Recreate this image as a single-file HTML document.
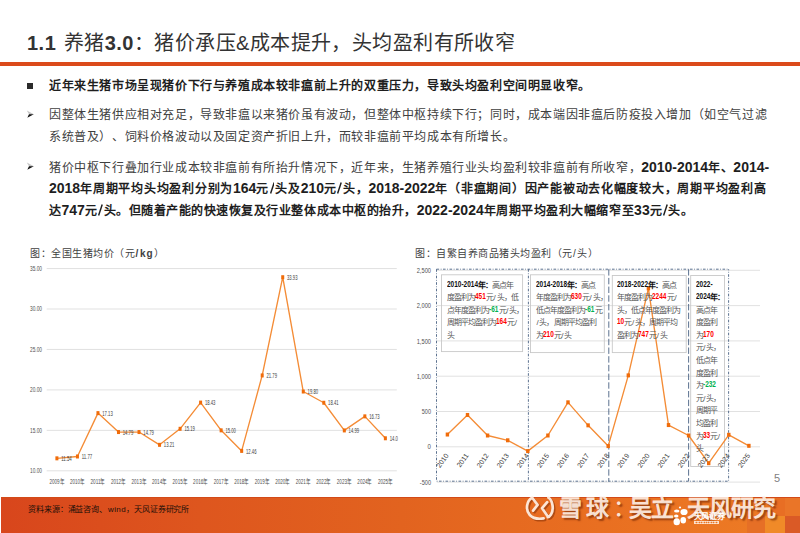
<!DOCTYPE html>
<html lang="zh-CN"><head><meta charset="utf-8">
<style>
*{margin:0;padding:0;box-sizing:border-box}
html,body{width:800px;height:533px;overflow:hidden;background:#fff}
body{position:relative;font-family:"Liberation Sans",sans-serif;color:#404040}
.abs{position:absolute;white-space:nowrap}
#title{left:27px;top:29.5px;font-size:20px;font-weight:500;color:#333;line-height:26px;letter-spacing:0.42px}
#title b{font-weight:bold;letter-spacing:0.5px}
#rule{left:0;top:62px;width:800px;height:4px;background:#DB4A1B}
.ln{position:absolute;left:49px;white-space:nowrap;font-size:12px;letter-spacing:0.6px;line-height:16px;text-spacing-trim:space-all}
.b{font-weight:bold;color:#1e1e1e}
.a{letter-spacing:0px;font-size:14px}
.sl{display:inline-block;width:4.8px;height:12px;margin:0 0.8px 0 0.5px;vertical-align:-1.3px;color:#404040}
.b .sl{color:#1e1e1e}
.sl svg{display:block}
.sq{position:absolute;left:27px;top:82.5px;width:6px;height:6px;background:#2b2b2b}
.arr{position:absolute;left:26px;width:9px;height:8px}
#footer{left:1px;top:497px;border-top:1px solid #D24A18;width:800px;height:36px;background:linear-gradient(90deg,#D8461C 0%,#DE561E 25%,#E2631F 50%,#E96F21 75%,#EE7D25 100%);overflow:hidden}
#footer i{position:absolute;display:block}
#src{left:28px;top:503.5px;font-size:8px;letter-spacing:-0.1px;color:#1a0f08;line-height:12px;font-weight:500}
.wm{position:absolute;white-space:nowrap;font-size:23px;font-weight:bold;line-height:24px;color:rgba(255,244,236,0.9);text-shadow:2px 2px 1.5px rgba(100,30,0,0.55)}
#pg{left:774px;top:472px;font-size:11px;color:#7f7f7f}

#charts{position:absolute;left:0;top:0;width:800px;height:533px;font-family:"Liberation Sans",sans-serif}
.ct{position:absolute;white-space:nowrap;font-size:10px;letter-spacing:0.5px;color:#404040;line-height:14px;font-weight:500}
.bx{position:absolute;white-space:nowrap;font-size:8px;letter-spacing:-0.95px;line-height:12.6px;color:#555}
.bx b{color:#111;font-weight:bold}
.bx .n{font-weight:bold;letter-spacing:0;font-size:9px;display:inline-block;transform:scaleX(0.72);transform-origin:0 0;line-height:10px;position:relative;top:-1px}
.s2{letter-spacing:0.8px;padding-left:0.6px}
.r{color:#FF0000}.g{color:#00B050}
</style></head><body>
<div class="abs" id="title"><b>1.1</b>&nbsp;<span style="margin-left:1.5px"></span>养猪<b>3.0</b>：猪价承压&amp;成本提升，头均盈利有所收窄</div>
<div class="abs" id="rule"></div>

<div class="sq"></div>
<div class="ln b" style="top:78px">近年来生猪市场呈现猪价下行与养殖成本较非瘟前上升的双重压力，导致头均盈利空间明显收窄。</div>

<svg class="arr" style="top:110px" viewBox="0 0 9 8"><path d="M0.8 0.4 L7.8 4.2 L3 4.2 Z" fill="#c4c4c4"/><path d="M3 4.2 L7.8 4.2 L1.3 7.8 Z" fill="#111"/></svg>
<div class="ln" style="top:106.5px">因整体生猪供应相对充足，导致非瘟以来猪价虽有波动，但整体中枢持续下行；同时，成本端因非瘟后防疫投入增加（如空气过滤</div>
<div class="ln" style="top:129px">系统普及）、饲料价格波动以及固定资产折旧上升，而较非瘟前平均成本有所增长。</div>

<svg class="arr" style="top:162px" viewBox="0 0 9 8"><path d="M0.8 0.4 L7.8 4.2 L3 4.2 Z" fill="#c4c4c4"/><path d="M3 4.2 L7.8 4.2 L1.3 7.8 Z" fill="#111"/></svg>
<div class="ln" style="top:158.5px">猪价中枢下行叠加行业成本较非瘟前有所抬升情况下，近年来，生猪养殖行业头均盈利较非瘟前有所收窄，<span class="b"><span class="a">2010-2014</span>年、<span class="a">2014-</span></span></div>
<div class="ln b" style="top:180px;letter-spacing:0.74px"><span class="a">2018</span>年周期平均头均盈利分别为<span class="a">164</span>元<span class="sl"><svg width="4.8" height="12" viewBox="0 0 4.8 12"><line x1="0.6" y1="11.4" x2="4.2" y2="0.6" stroke="currentColor" stroke-width="1.45"/></svg></span>头及<span class="a">210</span>元<span class="sl"><svg width="4.8" height="12" viewBox="0 0 4.8 12"><line x1="0.6" y1="11.4" x2="4.2" y2="0.6" stroke="currentColor" stroke-width="1.45"/></svg></span>头，<span class="a">2018-2022</span>年（非瘟期间）因产能被动去化幅度较大，周期平均盈利高</div>
<div class="ln b" style="top:202px;letter-spacing:0.53px">达<span class="a">747</span>元<span class="sl"><svg width="4.8" height="12" viewBox="0 0 4.8 12"><line x1="0.6" y1="11.4" x2="4.2" y2="0.6" stroke="currentColor" stroke-width="1.45"/></svg></span>头。但随着产能的快速恢复及行业整体成本中枢的抬升，<span class="a">2022-2024</span>年周期平均盈利大幅缩窄至<span class="a">33</span>元<span class="sl"><svg width="4.8" height="12" viewBox="0 0 4.8 12"><line x1="0.6" y1="11.4" x2="4.2" y2="0.6" stroke="currentColor" stroke-width="1.45"/></svg></span>头。</div>


<div class="ct" style="left:30px;top:247px">图：全国生猪均价（元<span style="font-weight:bold;letter-spacing:1px"><span style="margin:0 0.8px 0 0.4px">/</span>kg</span>）</div>
<div class="ct" style="left:415px;top:247px">图：自繁自养商品猪头均盈利（元<span style="letter-spacing:1.2px;margin-left:0.6px">/</span>头）</div>
<svg id="charts" viewBox="0 0 800 533" width="800" height="533"><g id="lc">
<line x1="46.7" y1="268.55" x2="396.8" y2="268.55" stroke="#D9D9D9" stroke-width="0.8"/>
<text x="42" y="270.75" text-anchor="end" font-size="6.6" textLength="12" lengthAdjust="spacingAndGlyphs" fill="#505050">35.00</text>
<line x1="46.7" y1="309" x2="396.8" y2="309" stroke="#D9D9D9" stroke-width="0.8"/>
<text x="42" y="311.2" text-anchor="end" font-size="6.6" textLength="12" lengthAdjust="spacingAndGlyphs" fill="#505050">30.00</text>
<line x1="46.7" y1="349.45" x2="396.8" y2="349.45" stroke="#D9D9D9" stroke-width="0.8"/>
<text x="42" y="351.65" text-anchor="end" font-size="6.6" textLength="12" lengthAdjust="spacingAndGlyphs" fill="#505050">25.00</text>
<line x1="46.7" y1="389.9" x2="396.8" y2="389.9" stroke="#D9D9D9" stroke-width="0.8"/>
<text x="42" y="392.1" text-anchor="end" font-size="6.6" textLength="12" lengthAdjust="spacingAndGlyphs" fill="#505050">20.00</text>
<line x1="46.7" y1="430.35" x2="396.8" y2="430.35" stroke="#D9D9D9" stroke-width="0.8"/>
<text x="42" y="432.55" text-anchor="end" font-size="6.6" textLength="12" lengthAdjust="spacingAndGlyphs" fill="#505050">15.00</text>
<line x1="46.7" y1="470.8" x2="396.8" y2="470.8" stroke="#D9D9D9" stroke-width="0.8"/>
<text x="42" y="473" text-anchor="end" font-size="6.6" textLength="12" lengthAdjust="spacingAndGlyphs" fill="#505050">10.00</text>
<polyline fill="none" stroke="#F48C36" stroke-width="1.35" stroke-linejoin="round" points="56.9,458.34 77.43,456.48 97.96,413.12 118.49,432.05 139.02,432.05 159.55,444.83 180.08,428.81 200.61,402.6 221.14,430.35 241.67,450.9 262.2,375.42 282.73,277.21 303.26,391.52 323.79,402.76 344.32,430.43 364.85,416.35 385.38,438.28"/>
<rect x="55.4" y="456.34" width="3" height="4" fill="#F06C0A"/>
<rect x="75.93" y="454.48" width="3" height="4" fill="#F06C0A"/>
<rect x="96.46" y="411.12" width="3" height="4" fill="#F06C0A"/>
<rect x="116.99" y="430.05" width="3" height="4" fill="#F06C0A"/>
<rect x="137.52" y="430.05" width="3" height="4" fill="#F06C0A"/>
<rect x="158.05" y="442.83" width="3" height="4" fill="#F06C0A"/>
<rect x="178.58" y="426.81" width="3" height="4" fill="#F06C0A"/>
<rect x="199.11" y="400.6" width="3" height="4" fill="#F06C0A"/>
<rect x="219.64" y="428.35" width="3" height="4" fill="#F06C0A"/>
<rect x="240.17" y="448.9" width="3" height="4" fill="#F06C0A"/>
<rect x="260.7" y="373.42" width="3" height="4" fill="#F06C0A"/>
<rect x="281.23" y="275.21" width="3" height="4" fill="#F06C0A"/>
<rect x="301.76" y="389.52" width="3" height="4" fill="#F06C0A"/>
<rect x="322.29" y="400.76" width="3" height="4" fill="#F06C0A"/>
<rect x="342.82" y="428.43" width="3" height="4" fill="#F06C0A"/>
<rect x="363.35" y="414.35" width="3" height="4" fill="#F06C0A"/>
<rect x="383.88" y="436.28" width="3" height="4" fill="#F06C0A"/>
<clipPath id="lclip"><rect x="0" y="250" width="399" height="250"/></clipPath>
<g clip-path="url(#lclip)">
<text x="61.2" y="460.94" font-size="6.4" textLength="10.5" lengthAdjust="spacingAndGlyphs" fill="#404040">11.54</text>
<text x="81.73" y="459.08" font-size="6.4" textLength="10.5" lengthAdjust="spacingAndGlyphs" fill="#404040">11.77</text>
<text x="102.26" y="415.72" font-size="6.4" textLength="10.5" lengthAdjust="spacingAndGlyphs" fill="#404040">17.13</text>
<text x="122.79" y="434.65" font-size="6.4" textLength="10.5" lengthAdjust="spacingAndGlyphs" fill="#404040">14.79</text>
<text x="143.32" y="434.65" font-size="6.4" textLength="10.5" lengthAdjust="spacingAndGlyphs" fill="#404040">14.79</text>
<text x="163.85" y="447.43" font-size="6.4" textLength="10.5" lengthAdjust="spacingAndGlyphs" fill="#404040">13.21</text>
<text x="184.38" y="431.41" font-size="6.4" textLength="10.5" lengthAdjust="spacingAndGlyphs" fill="#404040">15.19</text>
<text x="204.91" y="405.2" font-size="6.4" textLength="10.5" lengthAdjust="spacingAndGlyphs" fill="#404040">18.43</text>
<text x="225.44" y="432.95" font-size="6.4" textLength="10.5" lengthAdjust="spacingAndGlyphs" fill="#404040">15.00</text>
<text x="245.97" y="453.5" font-size="6.4" textLength="10.5" lengthAdjust="spacingAndGlyphs" fill="#404040">12.46</text>
<text x="266.5" y="378.02" font-size="6.4" textLength="10.5" lengthAdjust="spacingAndGlyphs" fill="#404040">21.79</text>
<text x="287.03" y="279.81" font-size="6.4" textLength="10.5" lengthAdjust="spacingAndGlyphs" fill="#404040">33.93</text>
<text x="307.56" y="394.12" font-size="6.4" textLength="10.5" lengthAdjust="spacingAndGlyphs" fill="#404040">19.80</text>
<text x="328.09" y="405.36" font-size="6.4" textLength="10.5" lengthAdjust="spacingAndGlyphs" fill="#404040">18.41</text>
<text x="348.62" y="433.03" font-size="6.4" textLength="10.5" lengthAdjust="spacingAndGlyphs" fill="#404040">14.99</text>
<text x="369.15" y="418.95" font-size="6.4" textLength="10.5" lengthAdjust="spacingAndGlyphs" fill="#404040">16.73</text>
<text x="389.68" y="440.88" font-size="6.4" textLength="8.3" lengthAdjust="spacingAndGlyphs" fill="#404040">14.0</text>
</g>
<text x="56.9" y="483.6" text-anchor="middle" font-size="6.6" textLength="15" lengthAdjust="spacingAndGlyphs" fill="#505050">2009年</text>
<text x="77.43" y="483.6" text-anchor="middle" font-size="6.6" textLength="15" lengthAdjust="spacingAndGlyphs" fill="#505050">2010年</text>
<text x="97.96" y="483.6" text-anchor="middle" font-size="6.6" textLength="15" lengthAdjust="spacingAndGlyphs" fill="#505050">2011年</text>
<text x="118.49" y="483.6" text-anchor="middle" font-size="6.6" textLength="15" lengthAdjust="spacingAndGlyphs" fill="#505050">2012年</text>
<text x="139.02" y="483.6" text-anchor="middle" font-size="6.6" textLength="15" lengthAdjust="spacingAndGlyphs" fill="#505050">2013年</text>
<text x="159.55" y="483.6" text-anchor="middle" font-size="6.6" textLength="15" lengthAdjust="spacingAndGlyphs" fill="#505050">2014年</text>
<text x="180.08" y="483.6" text-anchor="middle" font-size="6.6" textLength="15" lengthAdjust="spacingAndGlyphs" fill="#505050">2015年</text>
<text x="200.61" y="483.6" text-anchor="middle" font-size="6.6" textLength="15" lengthAdjust="spacingAndGlyphs" fill="#505050">2016年</text>
<text x="221.14" y="483.6" text-anchor="middle" font-size="6.6" textLength="15" lengthAdjust="spacingAndGlyphs" fill="#505050">2017年</text>
<text x="241.67" y="483.6" text-anchor="middle" font-size="6.6" textLength="15" lengthAdjust="spacingAndGlyphs" fill="#505050">2018年</text>
<text x="262.2" y="483.6" text-anchor="middle" font-size="6.6" textLength="15" lengthAdjust="spacingAndGlyphs" fill="#505050">2019年</text>
<text x="282.73" y="483.6" text-anchor="middle" font-size="6.6" textLength="15" lengthAdjust="spacingAndGlyphs" fill="#505050">2020年</text>
<text x="303.26" y="483.6" text-anchor="middle" font-size="6.6" textLength="15" lengthAdjust="spacingAndGlyphs" fill="#505050">2021年</text>
<text x="323.79" y="483.6" text-anchor="middle" font-size="6.6" textLength="15" lengthAdjust="spacingAndGlyphs" fill="#505050">2022年</text>
<text x="344.32" y="483.6" text-anchor="middle" font-size="6.6" textLength="15" lengthAdjust="spacingAndGlyphs" fill="#505050">2023年</text>
<text x="364.85" y="483.6" text-anchor="middle" font-size="6.6" textLength="15" lengthAdjust="spacingAndGlyphs" fill="#505050">2024年</text>
<text x="385.38" y="483.6" text-anchor="middle" font-size="6.6" textLength="15" lengthAdjust="spacingAndGlyphs" fill="#505050">2025年</text>
</g>
<g id="rc">
<line x1="436.8" y1="270.3" x2="760" y2="270.3" stroke="#D9D9D9" stroke-width="0.8"/>
<text x="431" y="272.9" text-anchor="end" font-size="7.4" textLength="14.3" lengthAdjust="spacingAndGlyphs" fill="#505050">2,500</text>
<line x1="436.8" y1="305.6" x2="760" y2="305.6" stroke="#D9D9D9" stroke-width="0.8"/>
<text x="431" y="308.2" text-anchor="end" font-size="7.4" textLength="14.3" lengthAdjust="spacingAndGlyphs" fill="#505050">2,000</text>
<line x1="436.8" y1="340.9" x2="760" y2="340.9" stroke="#D9D9D9" stroke-width="0.8"/>
<text x="431" y="343.5" text-anchor="end" font-size="7.4" textLength="14.3" lengthAdjust="spacingAndGlyphs" fill="#505050">1,500</text>
<line x1="436.8" y1="376.2" x2="760" y2="376.2" stroke="#D9D9D9" stroke-width="0.8"/>
<text x="431" y="378.8" text-anchor="end" font-size="7.4" textLength="14.3" lengthAdjust="spacingAndGlyphs" fill="#505050">1,000</text>
<line x1="436.8" y1="411.5" x2="760" y2="411.5" stroke="#D9D9D9" stroke-width="0.8"/>
<text x="431" y="414.1" text-anchor="end" font-size="7.4" textLength="9.2" lengthAdjust="spacingAndGlyphs" fill="#505050">500</text>
<line x1="436.8" y1="446.8" x2="760" y2="446.8" stroke="#D9D9D9" stroke-width="0.8"/>
<text x="431" y="449.4" text-anchor="end" font-size="7.4" textLength="3.4" lengthAdjust="spacingAndGlyphs" fill="#505050">0</text>
<line x1="436.8" y1="482.1" x2="760" y2="482.1" stroke="#D9D9D9" stroke-width="0.8"/>
<text x="431" y="484.7" text-anchor="end" font-size="7.4" textLength="11.2" lengthAdjust="spacingAndGlyphs" fill="#505050">-500</text>
<rect x="441.5" y="274.8" width="81.1" height="76.8" fill="none" stroke="#C8C8C8" stroke-width="0.9"/>
<rect x="530.5" y="274.8" width="73.8" height="77.8" fill="none" stroke="#C8C8C8" stroke-width="0.9"/>
<rect x="612.3" y="275.5" width="73.9" height="77.1" fill="none" stroke="#C8C8C8" stroke-width="0.9"/>
<rect x="690.7" y="275.5" width="33.8" height="191" fill="none" stroke="#C8C8C8" stroke-width="0.9"/>
<path d="M436.5 269.2 H728.6 M436.5 269.2 V481.2 H728.6 V269.2 M528.4 269.2 V481.2" fill="none" stroke="#4A6283" stroke-width="0.9" stroke-dasharray="2.6 1.6 0.8 1.5"/>
<path d="M608.8 269.2 V481.2 M688.6 269.2 V481.2" fill="none" stroke="#4A6283" stroke-width="0.9" stroke-dasharray="6.4 2.3"/>
<polyline fill="none" stroke="#F48C36" stroke-width="1.35" stroke-linejoin="round" points="447.4,434.52 467.5,414.96 487.6,435.5 507.7,440.3 527.8,451.11 547.9,435.5 568,402.32 588.1,425.34 608.2,446.09 628.3,375.35 648.4,288.37 668.5,425.06 688.6,435.5 708.7,463.18 728.8,434.8 748.9,445.81"/>
<rect x="445.7" y="432.52" width="3.4" height="4" fill="#F06C0A"/>
<rect x="465.8" y="412.96" width="3.4" height="4" fill="#F06C0A"/>
<rect x="485.9" y="433.5" width="3.4" height="4" fill="#F06C0A"/>
<rect x="506" y="438.3" width="3.4" height="4" fill="#F06C0A"/>
<rect x="526.1" y="449.11" width="3.4" height="4" fill="#F06C0A"/>
<rect x="546.2" y="433.5" width="3.4" height="4" fill="#F06C0A"/>
<rect x="566.3" y="400.32" width="3.4" height="4" fill="#F06C0A"/>
<rect x="586.4" y="423.34" width="3.4" height="4" fill="#F06C0A"/>
<rect x="606.5" y="444.09" width="3.4" height="4" fill="#F06C0A"/>
<rect x="626.6" y="373.35" width="3.4" height="4" fill="#F06C0A"/>
<rect x="646.7" y="286.37" width="3.4" height="4" fill="#F06C0A"/>
<rect x="666.8" y="423.06" width="3.4" height="4" fill="#F06C0A"/>
<rect x="686.9" y="433.5" width="3.4" height="4" fill="#F06C0A"/>
<rect x="707" y="461.18" width="3.4" height="4" fill="#F06C0A"/>
<rect x="727.1" y="432.8" width="3.4" height="4" fill="#F06C0A"/>
<rect x="747.2" y="443.81" width="3.4" height="4" fill="#F06C0A"/>
<text transform="translate(448.9,455.5) rotate(-55)" text-anchor="end" font-size="7" fill="#404040">2010</text>
<text transform="translate(469,455.5) rotate(-55)" text-anchor="end" font-size="7" fill="#404040">2011</text>
<text transform="translate(489.1,455.5) rotate(-55)" text-anchor="end" font-size="7" fill="#404040">2012</text>
<text transform="translate(509.2,455.5) rotate(-55)" text-anchor="end" font-size="7" fill="#404040">2013</text>
<text transform="translate(529.3,455.5) rotate(-55)" text-anchor="end" font-size="7" fill="#404040">2014</text>
<text transform="translate(549.4,455.5) rotate(-55)" text-anchor="end" font-size="7" fill="#404040">2015</text>
<text transform="translate(569.5,455.5) rotate(-55)" text-anchor="end" font-size="7" fill="#404040">2016</text>
<text transform="translate(589.6,455.5) rotate(-55)" text-anchor="end" font-size="7" fill="#404040">2017</text>
<text transform="translate(609.7,455.5) rotate(-55)" text-anchor="end" font-size="7" fill="#404040">2018</text>
<text transform="translate(629.8,455.5) rotate(-55)" text-anchor="end" font-size="7" fill="#404040">2019</text>
<text transform="translate(649.9,455.5) rotate(-55)" text-anchor="end" font-size="7" fill="#404040">2020</text>
<text transform="translate(670,455.5) rotate(-55)" text-anchor="end" font-size="7" fill="#404040">2021</text>
<text transform="translate(690.1,455.5) rotate(-55)" text-anchor="end" font-size="7" fill="#404040">2022</text>
<text transform="translate(710.2,455.5) rotate(-55)" text-anchor="end" font-size="7" fill="#404040">2023</text>
<text transform="translate(730.3,455.5) rotate(-55)" text-anchor="end" font-size="7" fill="#404040">2024</text>
<text transform="translate(750.4,455.5) rotate(-55)" text-anchor="end" font-size="7" fill="#404040">2025</text>
</g></svg>
<div class="bx" style="left:446.8px;top:279.5px"><b><span class="n" style="margin-right:-12.05px">2010-2014</span>年：</b>高点年<br>度盈利为<span class="n r" style="margin-right:-4.20px">451</span>元<span class="s2">/</span>头，低<br>点年度盈利为<span class="n g" style="margin-right:-3.64px">-61</span>元<span class="s2">/</span>头，<br>周期平均盈利为<span class="n r" style="margin-right:-4.20px">164</span>元<span class="s2">/</span><br>头</div>
<div class="bx" style="left:535.8px;top:279.5px"><b><span class="n" style="margin-right:-12.05px">2014-2018</span>年：</b>高点<br>年度盈利为<span class="n r" style="margin-right:-4.20px">630</span>元<span class="s2">/</span>头，<br>低点年度盈利为<span class="n g" style="margin-right:-3.64px">-61</span>元<br><span class="s2">/</span>头，周期平均盈利<br>为<span class="n r" style="margin-right:-4.20px">210</span>元<span class="s2">/</span>头</div>
<div class="bx" style="left:617.1px;top:279.5px"><b><span class="n" style="margin-right:-12.05px">2018-2022</span>年：</b>高点<br>年度盈利为<span class="n r" style="margin-right:-5.60px">2244</span>元<span class="s2">/</span><br>头，低点年度盈利为<br><span class="n r" style="margin-right:-2.80px">10</span>元<span class="s2">/</span>头，周期平均<br>盈利为<span class="n r" style="margin-right:-4.20px">747</span>元<span class="s2">/</span>头</div>
<div class="bx" style="left:695.7px;top:279.5px"><b><span class="n" style="margin-right:-6.44px">2022-</span></b><br><b><span class="n" style="margin-right:-5.60px">2024</span>年：</b><br>高点年<br>度盈利<br>为<span class="n r" style="margin-right:-4.20px">170</span><br>元<span class="s2">/</span>头，<br>低点年<br>度盈利<br>为<span class="n g" style="margin-right:-5.04px">-232</span><br>元<span class="s2">/</span>头，<br>周期平<br>均盈利<br>为<span class="n r" style="margin-right:-2.80px">33</span>元<span class="s2">/</span><br>头</div>
<div class="abs" id="footer"><i style="left:770px;top:0;width:14px;height:18px;background:#E86E24"></i><i style="left:784px;top:0;width:16px;height:18px;background:#EA7528"></i><i style="left:746px;top:18px;width:18px;height:18px;background:#E66F26"></i><i style="left:764px;top:18px;width:20px;height:18px;background:#F08A28"></i><i style="left:784px;top:18px;width:16px;height:18px;background:#DA5A26"></i></div>
<div class="abs" id="src">资料来源：涌益咨询、<span style="letter-spacing:0.4px;margin-left:1px">wind</span>，天风证券研究所</div>
<div class="abs" id="pg">5</div>
<svg style="position:absolute;left:522px;top:492px;overflow:visible" width="36" height="32" viewBox="0 0 36 32"><g fill="none" stroke-width="2.7" stroke-linecap="round" stroke-linejoin="round"><g stroke="rgba(110,35,0,0.45)" transform="translate(1.5,1.5)"><path d="M10.2 5.7 C4.5 8.5 3.2 18 7.8 23 C11 26.5 16 27.3 21.6 26.4 M10.2 5.7 L15.6 12.9 L11.1 18.6 M26.4 5.7 C31 8.5 32 18 29 22.5 C28 24 27 25 25.8 25.2 M25.2 10.2 L20.1 16.2 L25.8 24.5"/></g><g stroke="rgba(255,240,228,0.93)"><path d="M10.2 5.7 C4.5 8.5 3.2 18 7.8 23 C11 26.5 16 27.3 21.6 26.4 M10.2 5.7 L15.6 12.9 L11.1 18.6 M26.4 5.7 C31 8.5 32 18 29 22.5 C28 24 27 25 25.8 25.2 M25.2 10.2 L20.1 16.2 L25.8 24.5"/></g></g></svg>
<div class="wm" style="left:559px;top:495.5px;letter-spacing:4px">雪球</div>
<div class="wm" style="left:613px;top:495.5px;font-weight:500">：</div>
<div class="wm" style="left:629px;top:495.5px;letter-spacing:-1px">吴立</div>
<div class="wm" style="left:687px;top:495.5px;letter-spacing:-1px">天风研究</div>
<svg style="position:absolute;left:672px;top:504px" width="18" height="22" viewBox="0 0 18 22"><g fill="#fff"><circle cx="8" cy="3.5" r="1.1"/><ellipse cx="4.75" cy="7" rx="2.75" ry="1.6"/><ellipse cx="12" cy="8" rx="3.6" ry="3.1"/><ellipse cx="4.25" cy="12" rx="2.25" ry="1.5"/><ellipse cx="4.75" cy="17.75" rx="3.25" ry="3.6"/><ellipse cx="11.25" cy="16.25" rx="2.8" ry="3.2"/></g></svg>
<div class="abs" style="left:693.5px;top:511.5px;font-size:8px;line-height:9px;color:#fff;font-weight:bold;letter-spacing:-0.3px">天风证券</div>
<div class="abs" style="left:693.5px;top:521px;width:25.5px;height:3px;border:0.5px solid rgba(255,255,255,0.6);background:repeating-linear-gradient(90deg,rgba(255,255,255,0.45) 0 1.5px,transparent 1.5px 2.4px)"></div>

</body></html>
